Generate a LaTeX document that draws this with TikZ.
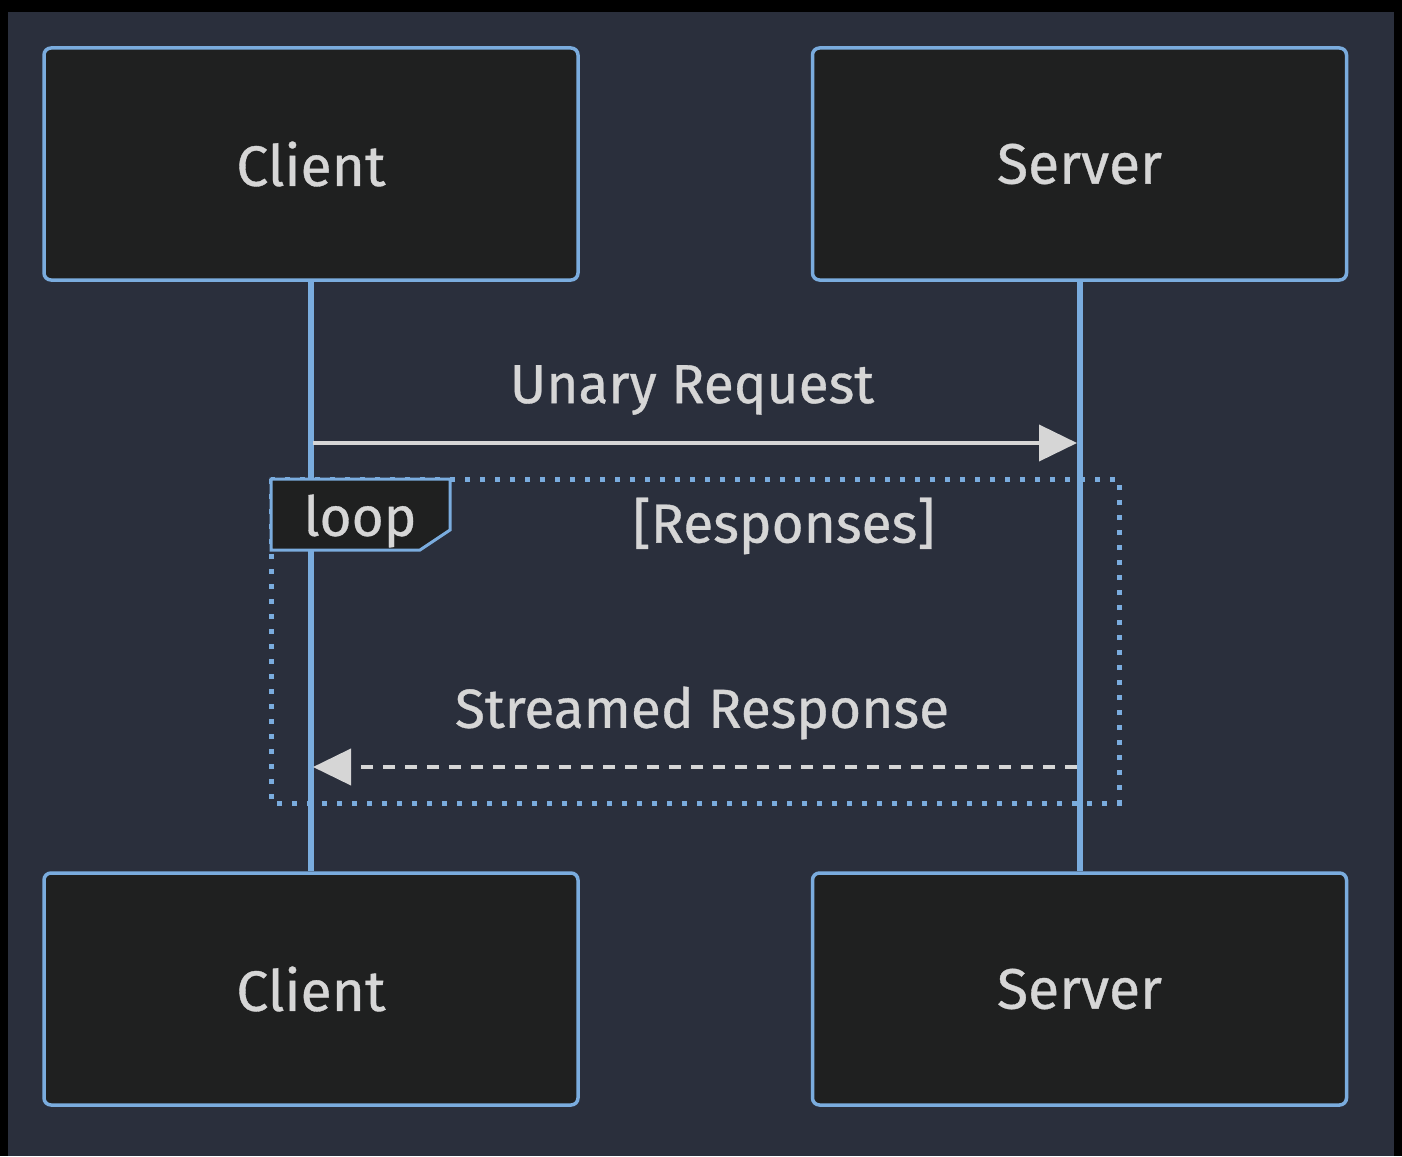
\documentclass[tikz,border=0pt]{standalone}
\usepackage{fontspec}
\newfontfamily\diagfont[FakeBold=0.6]{Fira Sans}
\usetikzlibrary{arrows.meta}
\definecolor{pagebg}{RGB}{42,47,60}
\definecolor{boxfill}{RGB}{31,32,32}
\definecolor{lineblue}{RGB}{122,172,222}
\definecolor{msggray}{RGB}{214,214,214}
\tikzset{
  actor/.style={draw=lineblue, line width=3.5pt, fill=boxfill, rounded corners=7pt,
    minimum width=534pt, minimum height=232pt, text=msggray,
    font=\diagfont\fontsize{57}{62}\selectfont},
  lifeline/.style={draw=lineblue, line width=6pt},
  msg/.style={draw=msggray, line width=4pt, -{Triangle[length=38pt,width=36pt]}},
  msgtext/.style={text=msggray, font=\diagfont\fontsize{55}{60}\selectfont},
  loopframe/.style={draw=lineblue, line width=5pt, dash pattern=on 5pt off 10pt}
}
\begin{document}
\begin{tikzpicture}[x=1pt,y=-1pt]
  \fill[black] (0,0) rectangle (1402,1156);
  \fill[pagebg] (8,12) rectangle (1394,1156);
  \useasboundingbox (0,0) rectangle (1402,1156);
  %% actors
  \node[actor] (clienttop) at (311,164) {Client};
  \node[actor] (servertop) at (1079.5,164) {Server};
  \node[actor] (clientbot) at (311,989) {Client};
  \node[actor] (serverbot) at (1079.5,989) {Server};
  %% lifelines
  \draw[lifeline] (clienttop.south) -- (clientbot.north);
  \draw[lifeline] (servertop.south) -- (serverbot.north);
  %% request
  \coordinate (reqfrom) at (313,443);
  \coordinate (reqto) at (1077,443);
  \draw[msg] (reqfrom) -- (reqto);
  \node[msgtext] (reqlabel) at (692,390) {Unary Request};
  %% loop frame
  \draw[loopframe] (271,479) rectangle (1119,803);
  \draw[draw=lineblue, line width=3pt, fill=boxfill] (271,479) -- (450,479) -- (450,530) -- (420,550) -- (271,550) -- cycle;
  \node[msgtext] (looplabel) at (360,521) {loop};
  \node[msgtext] (loopcond) at (784,526) {[Responses]};
  %% streamed response
  \coordinate (respfrom) at (1077,767);
  \coordinate (respto) at (313,767);
  \draw[msg, dash pattern=on 12pt off 10pt] (respfrom) -- (respto);
  \node[msgtext] (resplabel) at (702,713) {Streamed Response};
\end{tikzpicture}
\end{document}
